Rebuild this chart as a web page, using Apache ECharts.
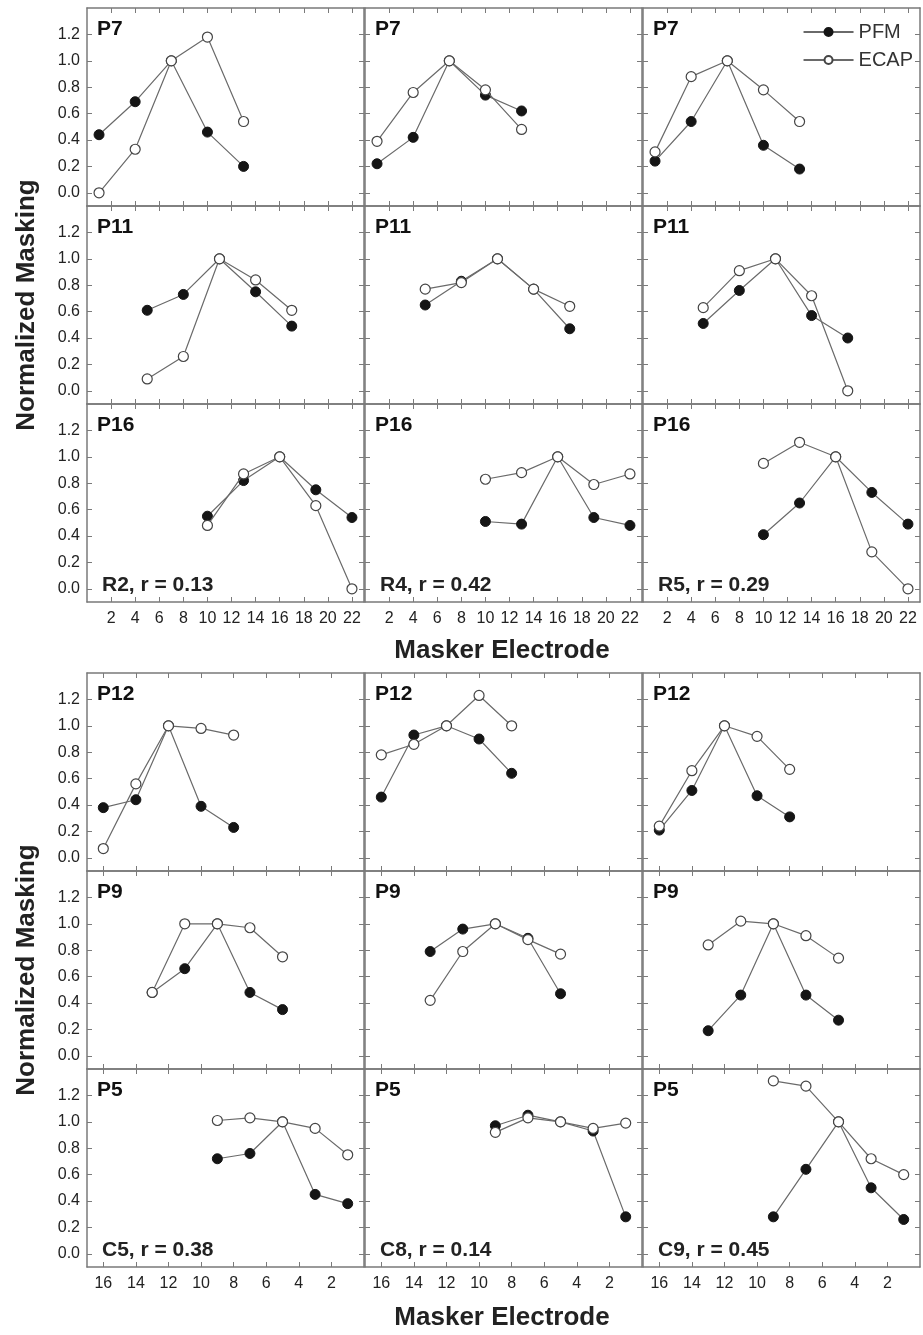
<!DOCTYPE html>
<html>
<head>
<meta charset="utf-8">
<style>
  html, body { margin: 0; padding: 0; background: #fff; }
  #chart { width: 923px; height: 1335px; }
</style>
<script src="https://cdn.jsdelivr.net/npm/echarts@6/dist/echarts.min.js"></script>
</head>
<body>
<div id="chart"></div>
<script>
// tick labels
const yTicks = [0.0, 0.2, 0.4, 0.6, 0.8, 1.0, 1.2]
const xTicksTop = [2, 4, 6, 8, 10, 12, 14, 16, 18, 20, 22]
const xTicksBottom = [16, 14, 12, 10, 8, 6, 4, 2]

// masker electrodes per subject (rows)
const xP7 = [1, 4, 7, 10, 13]
const xP11 = [5, 8, 11, 14, 17]
const xP16 = [10, 13, 16, 19, 22]
const xP12 = [16, 14, 12, 10, 8]
const xP9 = [13, 11, 9, 7, 5]
const xP5 = [9, 7, 5, 3, 1]

const rowsTop = ['P7', 'P11', 'P16']
const rowsBottom = ['P12', 'P9', 'P5']
const colsTop = ['R2, r = 0.13', 'R4, r = 0.42', 'R5, r = 0.29']
const colsBottom = ['C5, r = 0.38', 'C8, r = 0.14', 'C9, r = 0.45']

// normalized masking, one inner array per row (P7, P11, P16)
const pfmR2 = [[0.44, 0.69, 1.0, 0.46, 0.20], [0.61, 0.73, 1.0, 0.75, 0.49], [0.55, 0.82, 1.0, 0.75, 0.54]]
const ecapR2 = [[0.0, 0.33, 1.0, 1.18, 0.54], [0.09, 0.26, 1.0, 0.84, 0.61], [0.48, 0.87, 1.0, 0.63, 0.0]]
const pfmR4 = [[0.22, 0.42, 1.0, 0.74, 0.62], [0.65, 0.83, 1.0, 0.77, 0.47], [0.51, 0.49, 1.0, 0.54, 0.48]]
const ecapR4 = [[0.39, 0.76, 1.0, 0.78, 0.48], [0.77, 0.82, 1.0, 0.77, 0.64], [0.83, 0.88, 1.0, 0.79, 0.87]]
const pfmR5 = [[0.24, 0.54, 1.0, 0.36, 0.18], [0.51, 0.76, 1.0, 0.57, 0.40], [0.41, 0.65, 1.0, 0.73, 0.49]]
const ecapR5 = [[0.31, 0.88, 1.0, 0.78, 0.54], [0.63, 0.91, 1.0, 0.72, 0.0], [0.95, 1.11, 1.0, 0.28, 0.0]]

// rows P12, P9, P5
const pfmC5 = [[0.38, 0.44, 1.0, 0.39, 0.23], [0.48, 0.66, 1.0, 0.48, 0.35], [0.72, 0.76, 1.0, 0.45, 0.38]]
const ecapC5 = [[0.07, 0.56, 1.0, 0.98, 0.93], [0.48, 1.0, 1.0, 0.97, 0.75], [1.01, 1.03, 1.0, 0.95, 0.75]]
const pfmC8 = [[0.46, 0.93, 1.0, 0.90, 0.64], [0.79, 0.96, 1.0, 0.89, 0.47], [0.97, 1.05, 1.0, 0.93, 0.28]]
const ecapC8 = [[0.78, 0.86, 1.0, 1.23, 1.0], [0.42, 0.79, 1.0, 0.88, 0.77], [0.92, 1.03, 1.0, 0.95, 0.99]]
const pfmC9 = [[0.21, 0.51, 1.0, 0.47, 0.31], [0.19, 0.46, 1.0, 0.46, 0.27], [0.28, 0.64, 1.0, 0.50, 0.26]]
const ecapC9 = [[0.24, 0.66, 1.0, 0.92, 0.67], [0.84, 1.02, 1.0, 0.91, 0.74], [1.31, 1.27, 1.0, 0.72, 0.60]]

const FONT = "'Liberation Sans', Arial, sans-serif"
const AXIS_COLOR = '#7a7a7a'
const LINE_COLOR = '#6a6a6a'

const colLeft = [87, 365, 643]
const panelW = 277
const panelH = 198
const topRows = [8, 206, 404]
const bottomRows = [673, 871, 1069]

const groups = [
  {
    tops: topRows, rows: rowsTop, cols: colsTop, xs: [xP7, xP11, xP16],
    pfm: [pfmR2, pfmR4, pfmR5], ecap: [ecapR2, ecapR4, ecapR5],
    xMin: 0, xMax: 23, inverse: false, ticks: xTicksTop
  },
  {
    tops: bottomRows, rows: rowsBottom, cols: colsBottom, xs: [xP12, xP9, xP5],
    pfm: [pfmC5, pfmC8, pfmC9], ecap: [ecapC5, ecapC8, ecapC9],
    xMin: 0, xMax: 17, inverse: true, ticks: xTicksBottom
  }
]

const grid = []
const xAxis = []
const yAxis = []
const series = []
const graphic = []

const axisLine = { show: true, onZero: false, lineStyle: { color: AXIS_COLOR, width: 1.5 } }

groups.forEach((g) => {
  for (let r = 0; r < 3; r++) {
    for (let c = 0; c < 3; c++) {
      const gi = grid.length
      const left = colLeft[c]
      const top = g.tops[r]
      grid.push({ left: left, top: top, width: panelW, height: panelH })

      ;['bottom', 'top'].forEach((pos) => {
        xAxis.push({
          gridIndex: gi,
          type: 'value',
          position: pos,
          min: g.xMin,
          max: g.xMax,
          inverse: g.inverse,
          axisLine: axisLine,
          axisTick: { show: true, inside: true, length: 5, customValues: g.ticks, lineStyle: { color: AXIS_COLOR, width: 1 } },
          axisLabel: {
            show: pos === 'bottom' && r === 2,
            customValues: g.ticks,
            fontFamily: FONT,
            fontSize: 16,
            color: '#222',
            margin: 9
          },
          splitLine: { show: false }
        })
      })

      ;['left', 'right'].forEach((pos) => {
        yAxis.push({
          gridIndex: gi,
          type: 'value',
          position: pos,
          min: -0.1,
          max: 1.4,
          axisLine: axisLine,
          axisTick: { show: true, inside: true, length: 5, customValues: yTicks, lineStyle: { color: AXIS_COLOR, width: 1 } },
          axisLabel: {
            show: pos === 'left' && c === 0,
            customValues: yTicks,
            formatter: (v) => v.toFixed(1),
            fontFamily: FONT,
            fontSize: 16,
            color: '#222',
            margin: 7
          },
          splitLine: { show: false }
        })
      })

      const xs = g.xs[r]
      const pfm = g.pfm[c][r]
      const ecap = g.ecap[c][r]

      series.push({
        name: 'PFM',
        type: 'line',
        xAxisIndex: gi * 2,
        yAxisIndex: gi * 2,
        data: xs.map((x, k) => [x, pfm[k]]),
        symbol: 'circle',
        symbolSize: 10,
        lineStyle: { color: LINE_COLOR, width: 1.2 },
        itemStyle: { color: '#151515', borderColor: '#151515', borderWidth: 1 },
        silent: true,
        z: 3
      })
      series.push({
        name: 'ECAP',
        type: 'line',
        xAxisIndex: gi * 2,
        yAxisIndex: gi * 2,
        data: xs.map((x, k) => [x, ecap[k]]),
        symbol: 'circle',
        symbolSize: 10,
        lineStyle: { color: LINE_COLOR, width: 1.2 },
        itemStyle: { color: '#ffffff', borderColor: '#444', borderWidth: 1.2 },
        silent: true,
        z: 4
      })

      // subject label
      graphic.push({
        type: 'text',
        x: left + 10,
        y: top + 11,
        style: { text: g.rows[r], font: 'bold 21px ' + FONT, fill: '#111', textVerticalAlign: 'top' }
      })
      // correlation note on the bottom row
      if (r === 2) {
        graphic.push({
          type: 'text',
          x: left + 15,
          y: top + panelH - 6,
          style: { text: g.cols[c], font: 'bold 21px ' + FONT, fill: '#222', textVerticalAlign: 'bottom' }
        })
      }
    }
  }
})

// axis titles
;[305, 970].forEach((cy) => {
  graphic.push({
    type: 'text',
    x: 27,
    y: cy,
    rotation: Math.PI / 2,
    style: { text: 'Normalized Masking', font: 'bold 26px ' + FONT, fill: '#222', textAlign: 'center', textVerticalAlign: 'middle' }
  })
})
;[651, 1318].forEach((cy) => {
  graphic.push({
    type: 'text',
    x: 502,
    y: cy,
    style: { text: 'Masker Electrode', font: 'bold 26px ' + FONT, fill: '#222', textAlign: 'center', textVerticalAlign: 'middle' }
  })
})

const chart = echarts.init(document.getElementById('chart'))
chart.setOption({
  animation: false,
  backgroundColor: '#fff',
  grid: grid,
  xAxis: xAxis,
  yAxis: yAxis,
  legend: {
    data: ['PFM', 'ECAP'],
    orient: 'vertical',
    right: 5,
    top: 17,
    itemWidth: 50,
    itemHeight: 10,
    itemGap: 8,
    selectedMode: false,
    textStyle: { fontFamily: FONT, fontSize: 20, color: '#333' }
  },
  series: series,
  graphic: graphic
})
window.addEventListener('resize', () => chart.resize())
</script>
</body>
</html>
